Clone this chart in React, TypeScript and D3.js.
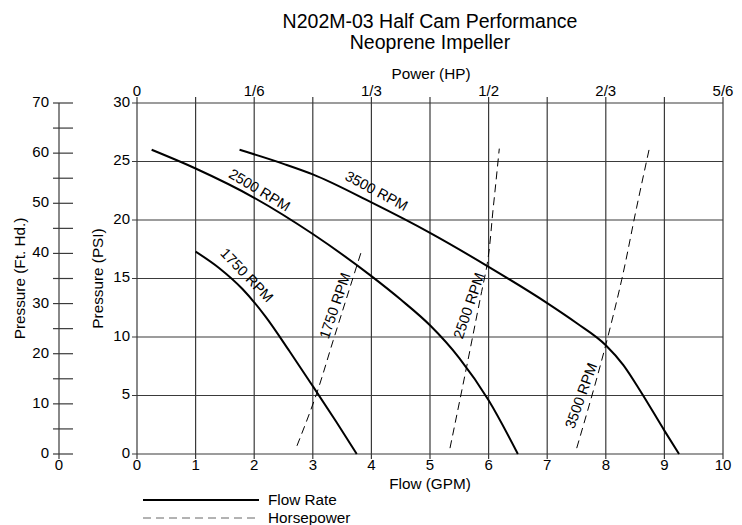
import React from "react";
import * as d3 from "d3";

// ---- data ----
const title1 = "N202M-03 Half Cam Performance";
const title2 = "Neoprene Impeller";
const gpmTicks = [0, 1, 2, 3, 4, 5, 6, 7, 8, 9, 10];
const psiTicks = [0, 5, 10, 15, 20, 25, 30];
const ftTicks = [0, 5, 10, 15, 20, 25, 30, 35, 40, 45, 50, 55, 60, 65, 70];
const ftLabels = [0, 10, 20, 30, 40, 50, 60, 70];
const hpTicks = [0, 1 / 12, 1 / 6, 3 / 12, 1 / 3, 5 / 12, 1 / 2, 7 / 12, 2 / 3, 9 / 12, 5 / 6];
const hpLabels: [number, string][] = [
  [0, "0"], [1 / 6, "1/6"], [1 / 3, "1/3"], [1 / 2, "1/2"], [2 / 3, "2/3"], [5 / 6, "5/6"],
];

// flow curves: [gpm, psi]
const flow1750: [number, number][] = [
  [1.0, 17.3], [1.4, 15.9], [1.8, 14.1], [2.2, 11.7], [2.6, 8.8], [3.0, 5.8], [3.4, 2.75], [3.75, 0],
];
const flow2500: [number, number][] = [
  [0.25, 26.0], [1.0, 24.4], [2.0, 21.9], [3.0, 18.8], [4.0, 15.2], [4.5, 13.2], [5.0, 11.0],
  [5.5, 8.2], [6.0, 4.6], [6.5, 0],
];
const flow3500: [number, number][] = [
  [1.75, 26.0], [2.5, 24.8], [3.0, 23.9], [4.0, 21.5], [5.0, 18.9], [6.0, 16.0], [7.0, 12.9],
  [7.5, 11.2], [8.0, 9.3], [8.3, 7.6], [8.6, 5.3], [9.0, 2.0], [9.25, 0],
];
// horsepower curves: [hp, psi]
const hp1750: [number, number][] = [
  [0.2275, 0.7], [0.2545, 5.0], [0.279, 9.7], [0.3195, 17.4],
];
const hp2500: [number, number][] = [
  [0.4451, 0.5], [0.4689, 7.5], [0.4902, 13.9], [0.4973, 16.0], [0.5067, 21.1], [0.5152, 26.1],
];
const hp3500: [number, number][] = [
  [0.6253, 0.5], [0.6665, 9.3], [0.6893, 14.9], [0.7106, 21.1], [0.7285, 26.1],
];

const FONT = "'Liberation Sans', Arial, Helvetica, sans-serif";

export default function App() {
  const x = d3.scaleLinear().domain([0, 10]).range([137, 723]);
  const xhp = d3.scaleLinear().domain([0, 5 / 6]).range([137, 723]);
  const y = d3.scaleLinear().domain([0, 30]).range([454, 103]);
  const yft = d3.scaleLinear().domain([0, 70]).range([454, 103]);

  const flowLine = d3
    .line<[number, number]>()
    .x((d) => x(d[0]))
    .y((d) => y(d[1]))
    .curve(d3.curveMonotoneX);
  const hpLine = d3
    .line<[number, number]>()
    .x((d) => xhp(d[0]))
    .y((d) => y(d[1]))
    .curve(d3.curveMonotoneY);

  const grid = "#3a3a3a";
  const lbl = (cx: number, cy: number, ang: number, t: string) => (
    <text
      transform={`translate(${cx},${cy}) rotate(${ang})`}
      textAnchor="middle"
      dominantBaseline="middle"
      fontSize={14.5}
    >
      {t}
    </text>
  );

  return (
    <svg
      width={742}
      height={525}
      style={{ position: "absolute", left: 0, top: 0, background: "#fff" }}
      fontFamily={FONT}
    >
      <rect x={0} y={0} width={742} height={525} fill="#fff" />
      {/* titles */}
      <text x={430} y={28} textAnchor="middle" fontSize={19.5}>{title1}</text>
      <text x={430} y={49} textAnchor="middle" fontSize={19.5}>{title2}</text>
      <text x={431} y={79} textAnchor="middle" fontSize={15.3}>Power (HP)</text>

      {/* vertical grid */}
      {gpmTicks.map((t) => (
        <line key={"vg" + t} x1={x(t)} x2={x(t)} y1={y(30)} y2={y(0) + 5} stroke={grid} strokeWidth={1.2} />
      ))}
      {/* horizontal grid */}
      {psiTicks.map((t) => (
        <line key={"hg" + t} x1={x(0) - 5} x2={x(10)} y1={y(t)} y2={y(t)} stroke={grid} strokeWidth={1.2} />
      ))}
      {/* top hp ticks */}
      {hpTicks.map((t, i) => (
        <line key={"ht" + i} x1={xhp(t)} x2={xhp(t)} y1={y(30) - 6} y2={y(30)} stroke={grid} strokeWidth={1.2} />
      ))}
      {hpLabels.map(([v, s]) => (
        <text key={"hl" + s} x={xhp(v)} y={96} textAnchor="middle" fontSize={15}>{s}</text>
      ))}
      {/* bottom labels */}
      {gpmTicks.map((t) => (
        <text key={"xl" + t} x={x(t)} y={470} textAnchor="middle" fontSize={15}>{t}</text>
      ))}
      <text x={430} y={489} textAnchor="middle" fontSize={15.3}>Flow (GPM)</text>
      {/* psi labels */}
      {psiTicks.map((t) => (
        <text key={"yl" + t} x={130} y={y(t)} textAnchor="end" dominantBaseline="middle" fontSize={15}>{t}</text>
      ))}
      <text transform={`translate(103,${y(15)}) rotate(-90)`} textAnchor="middle" fontSize={15.3}>Pressure (PSI)</text>

      {/* ft hd axis */}
      <line x1={59} x2={59} y1={yft(70)} y2={yft(0) + 5} stroke={grid} strokeWidth={1.2} />
      {ftTicks.map((t) => (
        <line key={"ft" + t} x1={53} x2={73} y1={yft(t)} y2={yft(t)} stroke={grid} strokeWidth={1.2} />
      ))}
      {ftLabels.map((t) => (
        <text key={"fl" + t} x={49} y={yft(t)} textAnchor="end" dominantBaseline="middle" fontSize={15}>{t}</text>
      ))}
      <text x={59} y={470} textAnchor="middle" fontSize={15}>0</text>
      <text transform={`translate(25,${y(15)}) rotate(-90)`} textAnchor="middle" fontSize={15.3}>Pressure (Ft. Hd.)</text>

      {/* flow curves */}
      {[flow1750, flow2500, flow3500].map((d, i) => (
        <path key={"f" + i} d={flowLine(d) || ""} fill="none" stroke="#000" strokeWidth={2} />
      ))}
      {/* hp curves */}
      {[hp1750, hp2500, hp3500].map((d, i) => (
        <path key={"h" + i} d={hpLine(d) || ""} fill="none" stroke="#000" strokeWidth={1} strokeDasharray="8,5" />
      ))}

      {/* curve labels */}
      {lbl(246, 276, 46, "1750 RPM")}
      {lbl(259, 191, 31, "2500 RPM")}
      {lbl(376, 192, 28, "3500 RPM")}
      {lbl(336, 306, -71, "1750 RPM")}
      {lbl(470, 306, -71, "2500 RPM")}
      {lbl(582, 396, -70, "3500 RPM")}

      {/* legend */}
      <line x1={143} x2={259} y1={500} y2={500} stroke="#000" strokeWidth={2} />
      <text x={268} y={505} fontSize={15.3}>Flow Rate</text>
      <line x1={143} x2={259} y1={518} y2={518} stroke="#666" strokeWidth={1} strokeDasharray="8,5" />
      <text x={268} y={523} fontSize={15.3}>Horsepower</text>
    </svg>
  );
}
